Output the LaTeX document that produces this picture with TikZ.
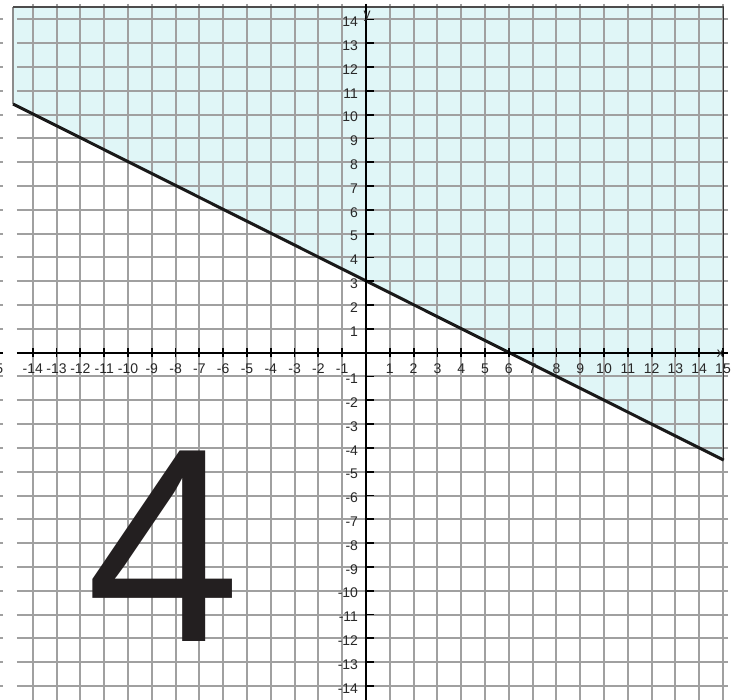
\documentclass[tikz,border=0pt]{standalone}
\usepackage{fontspec}
\setmainfont{Liberation Sans}
\definecolor{shadec}{RGB}{224,246,247}
\definecolor{gridc}{RGB}{160,160,160}
\definecolor{labc}{RGB}{40,40,40}
\definecolor{fourc}{RGB}{35,31,32}
\begin{document}
\begin{tikzpicture}[x=23.8pt,y=23.8pt,
  gridline/.style={draw=gridc,line width=2pt},
  axisline/.style={draw=black,line width=2pt},
  tickmark/.style={draw=black,line width=1.8pt},
  lab/.style={font=\fontsize{14}{14}\selectfont,text=labc,inner sep=0pt,outer sep=0pt},
  edgeline/.style={draw=black!70,line width=1.5pt},
  boundline/.style={draw=black!90,line width=3pt}
  ]
\useasboundingbox (-15.378,-14.592) rectangle (15.462,14.819);
\fill[white] (-15.378,-14.592) rectangle (15.462,14.819);
% shaded half-plane
\coordinate (TL) at (-14.83,14.525);
\coordinate (TR) at (15.03,14.525);
\coordinate (R) at (15.03,-4.515);
\coordinate (L) at (-14.83,10.45);
\fill[shadec] (TL) -- (TR) -- (R) -- (L) -- cycle;
% grid
\foreach \y in {-14,...,14} {
  \draw[gridline] (-14.664,\y) -- (15.21,\y);
  \draw[gridline] (-15.378,\y) -- (-15.252,\y);
}
\foreach \x in {-14,...,15} \draw[gridline] (\x,14.651) -- (\x,-14.592);
% region edges
\draw[edgeline,draw=black!45] (L) -- (TL);
\draw[edgeline] (TL) -- (TR);
\draw[edgeline,draw=black!80] (TR) -- (R);
% boundary line
\draw[boundline] (L) -- (R);
% axes
\draw[axisline] (-14.664,0) -- (15.21,0);
\draw[axisline] (-15.378,0) -- (-15.252,0);
\draw[axisline] (0,14.651) -- (0,-14.592);
% ticks
\foreach \x in {-14,...,-1,1,2,...,15} \draw[tickmark] (\x,0.19) -- (\x,-0.19);
\foreach \y in {-14,...,-1,1,2,...,14} \draw[tickmark] (-0.04,\y) -- (0.34,\y);
% tick labels
\foreach \x in {-14,...,-1,1,2,...,15} \node[lab,anchor=base] (xl\x) at (\x,-0.86) {\x};
\foreach \y in {-14,...,-1,1,2,...,14} \node[lab,anchor=base east] (yl\y) at (-0.336,\y-0.3) {\y};
\begin{scope}
  \clip (-15.378,-3) rectangle (-15.252,3);
  \node[lab,anchor=base east] (xlm15) at (-15.245,-0.86) {-15};
\end{scope}
% axis names
\node[lab] (xname) at (14.89,-0.05) {x};
\node[lab] (yname) at (0.05,14.12) {y};
% big numeral
\node[anchor=base west,inner sep=0pt,outer sep=0pt,text=fourc,font=\fontsize{277}{277}\selectfont] (four) at (-11.745,-12.155) {4};
\end{tikzpicture}
\end{document}
